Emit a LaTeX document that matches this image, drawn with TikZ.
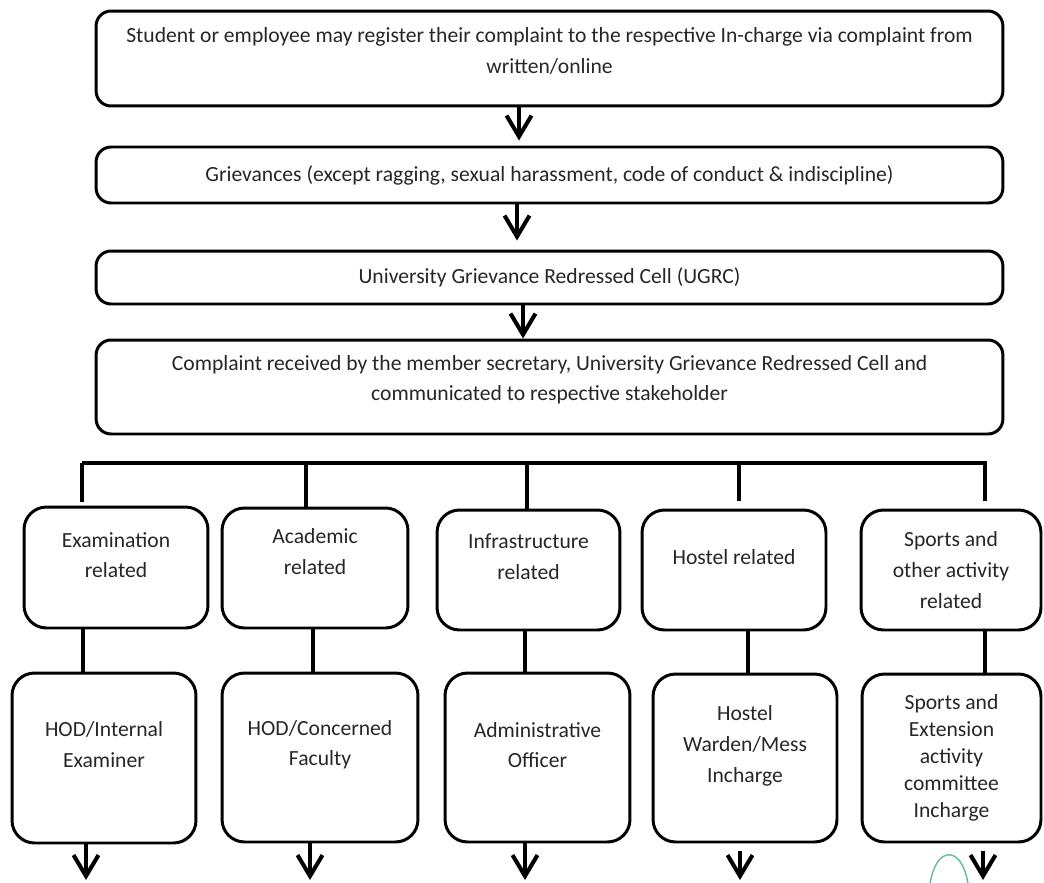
\documentclass[tikz,border=0pt]{standalone}
\usepackage{fontspec}
\setmainfont{Carlito}
\usetikzlibrary{arrows.meta}
\definecolor{penline}{RGB}{100,185,165}
\tikzset{
        box/.style={draw, line width=1.7pt, rounded corners=0.3cm, align=center,
          inner sep=0pt, text=black!85, font=\fontsize{12.3}{17.6}\selectfont},
        tile/.style={box, rounded corners=0.45cm},
        lift/.style={text depth=#1},
        flow/.style={line width=2.3pt, -{Straight Barb[length=0.42cm, width=0.5cm]}},
        bus/.style={line width=2.8pt},
        link/.style={line width=2.3pt},
}
\begin{document}
\begin{tikzpicture}[x=0.02cm, y=-0.02cm]
      \useasboundingbox (0,0) rectangle (1044,882);
      % COMPLAINT CHAIN
      \node[box, minimum width=18.14cm, minimum height=1.9cm, lift=0.31cm] (reg) at (549.5,58.5)
        {Student or employee may register their complaint to the respective In-charge via complaint from\\written/online};
      \node[box, minimum width=18.14cm, minimum height=1.12cm] (griev) at (549.5,175)
        {Grievances (except ragging, sexual harassment, code of conduct \& indiscipline)};
      \node[box, minimum width=18.14cm, minimum height=1.06cm] (ugrc) at (549.5,277.5)
        {University Grievance Redressed Cell (UGRC)};
      \node[box, minimum width=18.14cm, minimum height=1.88cm, lift=0.36cm] (recv) at (549.5,387)
        {Complaint received by the member secretary, University Grievance Redressed Cell and\\communicated to respective stakeholder};

      % CATEGORIES
      \node[tile, minimum width=3.68cm, minimum height=2.42cm, lift=0.5cm] (exam) at (116,567.5) {Examination\\related};
      \node[tile, minimum width=3.72cm, minimum height=2.4cm, lift=0.65cm] (acad) at (315,568) {Academic\\related};
      \node[tile, minimum width=3.66cm, minimum height=2.4cm, lift=0.55cm] (infra) at (528.5,570) {Infrastructure\\related};
      \node[tile, minimum width=3.68cm, minimum height=2.4cm, lift=0.52cm] (hostel) at (734,570) {Hostel related};
      \node[tile, minimum width=3.6cm, minimum height=2.4cm] (sports) at (951,570) {Sports and\\other activity\\related};

      % RESPONSIBLE PERSONS
      \node[tile, minimum width=3.68cm, minimum height=3.4cm, lift=0.54cm] (hodi) at (104,758) {HOD/Internal\\Examiner};
      \node[tile, minimum width=3.92cm, minimum height=3.38cm, lift=0.58cm] (hodc) at (320,757.5) {HOD/Concerned\\Faculty};
      \node[tile, minimum width=3.7cm, minimum height=3.38cm, lift=0.5cm] (admin) at (537.5,757.5) {Administrative\\Officer};
      \node[tile, minimum width=3.68cm, minimum height=3.36cm, lift=0.56cm] (warden) at (745,758) {Hostel\\Warden/Mess\\Incharge};
      \node[tile, minimum width=3.58cm, minimum height=3.36cm, font=\fontsize{12.3}{15.3}\selectfont] (sportsx) at (951.5,758)
        {Sports and\\Extension\\activity\\committee\\Incharge};

      % ARROWS DOWN THE CHAIN
      \draw[flow, shorten >=0.1cm] ([xshift=-0.61cm]reg.south) -- ([xshift=-0.61cm]griev.north);
      \draw[flow, shorten >=0.18cm] ([xshift=-0.65cm]griev.south) -- ([xshift=-0.65cm]ugrc.north);
      \draw[flow] ([xshift=-0.53cm]ugrc.south) -- ([xshift=-0.53cm]recv.north);

      % BUS TO CATEGORIES
      \coordinate (busl) at (82,463);
      \coordinate (busr) at (987,463);
      \draw[bus] (busl) -- (busr);
      \foreach \x/\n/\g in {82/exam/0.08, 306/acad/0, 527/infra/0, 739/hostel/0.16, 985/sports/0.16}
        \draw[bus, shorten >=\g cm] (\x,463) -- (\x,0 |- \n.north);

      % CATEGORY TO PERSON
      \foreach \x/\a/\b in {83/exam/hodi, 313/acad/hodc, 525/infra/admin, 748/hostel/warden, 985/sports/sportsx}
        \draw[link] (\x,0 |- \a.south) -- (\x,0 |- \b.north);

      % OUTGOING ARROWS
      \foreach \x/\n/\g in {86/hodi/0, 310/hodc/0, 525/admin/0, 740/warden/0.16, 983/sportsx/0.16} {
        \coordinate (out\n) at (\x,880);
        \draw[flow, shorten <=\g cm] (\x,0 |- \n.south) -- (out\n);
      }
      % pen stroke
      \draw[penline, line width=0.8pt] (930,884) .. controls (936,845) and (962,845) .. (968,884);
\end{tikzpicture}
\end{document}
